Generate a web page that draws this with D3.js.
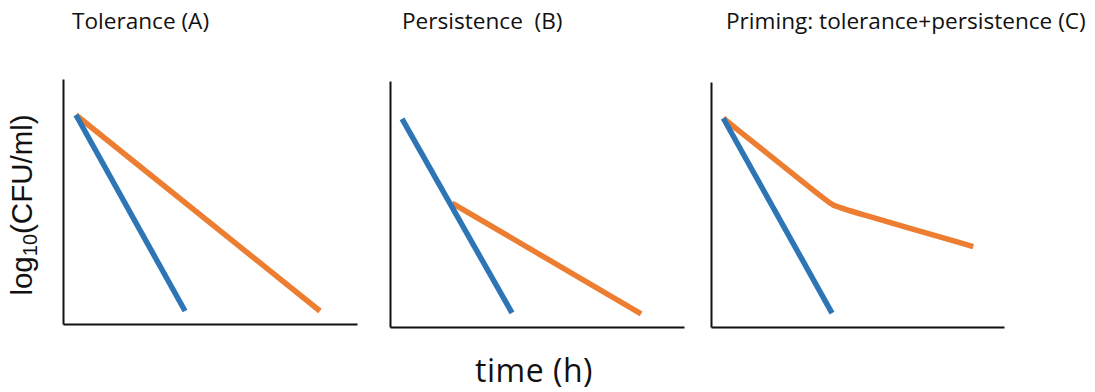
<!DOCTYPE html>
<html>
<head>
<meta charset="utf-8">
<script src="https://cdn.jsdelivr.net/npm/d3@7"></script>
<style>
  body { margin: 0; background: #fff; }
  svg { display: block; }
</style>
</head>
<body>
<div id="chart"></div>
<script>
// panel titles
const titles = ["Tolerance (A)", "Persistence  (B)", "Priming: tolerance+persistence (C)"];

// blue = normal killing, orange = tolerant / persistent population (time, log10 CFU) in 0-100 units
const blueA = [[4.4, 85.3], [41.5, 5.3]];
const orangeA = [[4.4, 85.3], [87.4, 5.3]];
const blueB = [[4.1, 84.6], [41.5, 5.7]];
const orangeB = [[21.1, 50.4], [85.4, 5.3]];
const blueC = [[4.2, 85.2], [41.3, 5.7]];
const orangeC = [[4.2, 85.2], [37, 53.8], [41.6, 49.4], [46, 47.9], [89.5, 32.8]];

const blueColor = "#2e75b6";
const orangeColor = "#ed7d31";

// panel frames in pixels
const panels = [
  { x0: 63, x1: 357, yTop: 79, yBot: 324, tx: 72, blue: blueA, orange: orangeA },
  { x0: 390, x1: 684, yTop: 81, yBot: 327, tx: 402, blue: blueB, orange: orangeB },
  { x0: 711, x1: 1004, yTop: 82, yBot: 327, tx: 726, blue: blueC, orange: orangeC }
];

const svg = d3.select("#chart")
  .append("svg")
  .attr("width", 1095)
  .attr("height", 392);

panels.forEach(function (p, i) {
  const x = d3.scaleLinear().domain([0, 100]).range([p.x0, p.x1]);
  const y = d3.scaleLinear().domain([0, 100]).range([p.yBot, p.yTop]);

  // basis keeps 2-point lines straight and rounds the knee in (C)
  const line = d3.line()
    .x(function (d) { return x(d[0]); })
    .y(function (d) { return y(d[1]); })
    .curve(d3.curveBasis);

  // axes, no ticks
  svg.append("g")
    .attr("transform", "translate(0," + p.yBot + ")")
    .call(d3.axisBottom(x).ticks(0).tickSize(0).tickFormat(""))
    .call(function (g) { g.select(".domain").attr("stroke", "#111").attr("stroke-width", 2); });
  svg.append("g")
    .attr("transform", "translate(" + p.x0 + ",0)")
    .call(d3.axisLeft(y).ticks(0).tickSize(0).tickFormat(""))
    .call(function (g) { g.select(".domain").attr("stroke", "#111").attr("stroke-width", 2); });

  svg.append("path")
    .datum(p.orange)
    .attr("fill", "none")
    .attr("stroke", orangeColor)
    .attr("stroke-width", 5.5)
    .attr("d", line);

  svg.append("path")
    .datum(p.blue)
    .attr("fill", "none")
    .attr("stroke", blueColor)
    .attr("stroke-width", 5.5)
    .attr("d", line);

  svg.append("text")
    .attr("x", p.tx)
    .attr("y", 29)
    .attr("font-family", "Open Sans")
    .attr("font-size", 22.6)
    .attr("fill", "#111")
    .style("white-space", "pre")
    .text(titles[i]);
});

// y label
const yLab = svg.append("text")
  .attr("transform", "translate(32,205) rotate(-90)")
  .attr("text-anchor", "middle")
  .attr("font-family", "Liberation Sans")
  .attr("font-size", 29.5)
  .attr("fill", "#111");
yLab.append("tspan").text("log");
yLab.append("tspan").attr("font-size", 20).attr("dy", 5).text("10");
yLab.append("tspan").attr("dy", -5).text("(CFU/ml)");

// x label
svg.append("text")
  .attr("x", 534)
  .attr("y", 382)
  .attr("text-anchor", "middle")
  .attr("font-family", "Open Sans")
  .attr("font-size", 32)
  .attr("letter-spacing", 0.5)
  .attr("fill", "#111")
  .text("time (h)");
</script>
</body>
</html>
